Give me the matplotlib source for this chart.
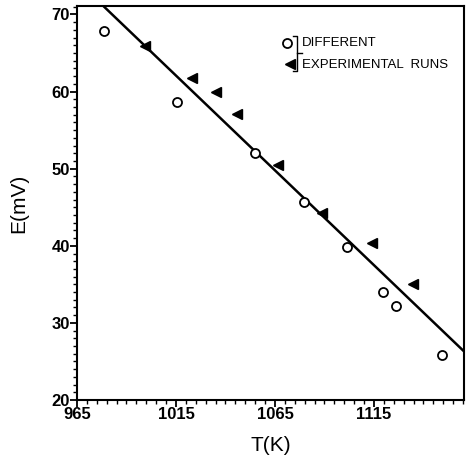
import matplotlib
matplotlib.use("Agg")
import matplotlib.pyplot as plt
from matplotlib.ticker import MultipleLocator
from matplotlib.lines import Line2D

# Data
circle_T = [978.6, 1015.3, 1054.9, 1079.6, 1101.5, 1119.7, 1125.9, 1149.2]
circle_E = [67.9, 58.6, 52.0, 45.7, 39.8, 34.0, 32.2, 25.8]
tri_T = [999.3, 1022.9, 1035.2, 1045.7, 1066.7, 1089.0, 1113.8, 1134.5]
tri_E = [65.9, 61.7, 60.0, 57.1, 50.5, 44.3, 40.3, 35.1]
fit_T = [960.0, 1165.0]
fit_E = [75.6, 25.2]

x_ticks = [965, 1015, 1065, 1115]
y_ticks = [20, 30, 40, 50, 60, 70]

plt.rcParams['font.family'] = ['Liberation Sans', 'DejaVu Sans']

fig = plt.figure(figsize=(4.67, 4.65), dpi=100)
ax = fig.add_axes([77/467, 1 - 400/465, (464-77)/467, (400-6)/465])

ax.plot(fit_T, fit_E, color='black', lw=1.8, zorder=2)
ax.plot(circle_T, circle_E, linestyle='none', marker='o', ms=6.5, mfc='white',
        mec='black', mew=1.3, zorder=3)
ax.plot(tri_T, tri_E, linestyle='none', marker='<', ms=7.5, mfc='black',
        mec='black', zorder=3)

ax.set_xlim(965, 1160.5)
ax.set_ylim(20, 71.1)
ax.set_xticks(x_ticks)
ax.set_yticks(y_ticks)
ax.xaxis.set_minor_locator(MultipleLocator(5))
ax.yaxis.set_minor_locator(MultipleLocator(1))
ax.tick_params(which='major', direction='out', length=5, width=1.3, labelsize=12, pad=0)
ax.tick_params(which='minor', direction='out', length=3, width=1.0)
for lbl in ax.get_xticklabels() + ax.get_yticklabels():
    lbl.set_fontweight('bold')
for s in ax.spines.values():
    s.set_linewidth(1.5)

ax.set_xlabel('T(K)', fontsize=15, labelpad=10)
ax.set_ylabel('E(mV)', fontsize=15, labelpad=17)

# Custom legend
def fx(px):
    return (px - 77) / (464 - 77)
def fy(py):
    return 1 - (py - 6) / (400 - 6)

ax.plot([fx(287)], [fy(43)], transform=ax.transAxes, marker='o', ms=6.5,
        mfc='white', mec='black', mew=1.3, clip_on=False, linestyle='none')
ax.plot([fx(290)], [fy(64)], transform=ax.transAxes, marker='<', ms=7.5,
        mfc='black', mec='black', clip_on=False, linestyle='none')
br_x0, br_x1 = fx(293), fx(297)
ax.add_line(Line2D([br_x0, br_x1, br_x1, br_x0], [fy(36), fy(36), fy(71), fy(71)],
                   transform=ax.transAxes, color='black', lw=1.0))
ax.add_line(Line2D([br_x1, fx(302)], [fy(53), fy(53)], transform=ax.transAxes,
                   color='black', lw=1.0))
ax.text(fx(302), fy(43), 'DIFFERENT', transform=ax.transAxes, fontsize=9.5,
        va='center', ha='left')
ax.text(fx(302), fy(65), 'EXPERIMENTAL  RUNS', transform=ax.transAxes,
        fontsize=9.5, va='center', ha='left')

fig.savefig('out.png', dpi=100)
